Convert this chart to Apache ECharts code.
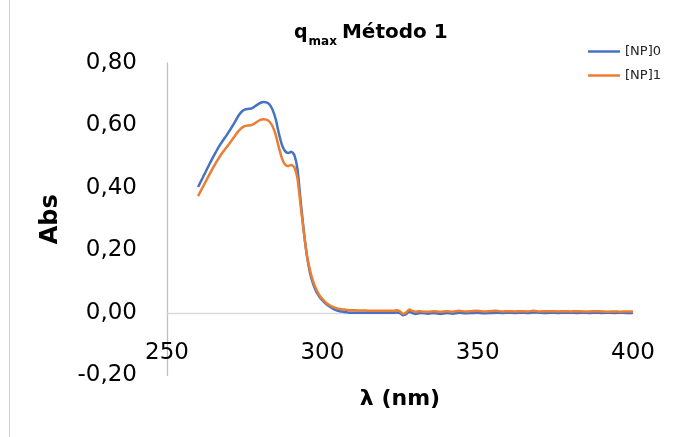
<!DOCTYPE html>
<html>
<head>
<meta charset="utf-8">
<script src="https://cdn.jsdelivr.net/npm/echarts@6/dist/echarts.min.js"></script>
<style>html,body{margin:0;padding:0;background:#fff}#c{width:685px;height:437px}</style>
</head>
<body>
<div id="c"></div>
<script>
// Wavelengths (nm)
const wavelengths = [
  260,261,262,263,264,265,266,267,268,269,270,271,272,273,274,275,276,277,278,279,
  280,281,282,283,284,285,286,287,288,289,290,291,292,293,294,295,296,297,298,299,
  300,301,302,303,304,305,306,307,308,309,310,311,312,313,314,315,316,317,318,319,
  320,321,322,323,324,325,326,327,328,329,330,331,332,
  334,336,338,340,342,344,346,348,350,352,354,356,358,360,362,364,366,368,370,372,
  374,376,378,380,382,384,386,388,390,392,394,396,398,400
];
// [NP]0 absorbance
const np0 = [
  0.403,0.423,0.443,0.463,0.483,0.502,0.520,0.537,0.552,0.566,0.581,0.597,0.614,0.631,0.644,0.651,0.653,0.654,0.659,0.666,
  0.672,0.675,0.674,0.667,0.650,0.620,0.575,0.538,0.518,0.512,0.516,0.505,0.460,0.360,0.265,0.185,0.130,0.094,0.070,0.053,
  0.041,0.031,0.023,0.016,0.011,0.007,0.005,0.003,0.002,0.001,0.001,0.001,0.001,0.001,0.001,0.001,0.001,0.001,0.001,0.001,
  0.001,0.001,0.001,0.001,0.002,0.000,-0.007,-0.004,0.004,0.000,-0.003,-0.001,0.000,
  -0.002,0.000,-0.003,0.000,-0.002,0.001,-0.001,0.000,0.001,-0.001,0.000,0.001,0.000,0.001,0.000,0.001,0.000,0.002,0.001,0.000,
  0.001,0.000,0.001,0.001,0.000,0.001,0.000,0.001,0.000,0.001,0.000,0.001,0.000,0.001
];
// [NP]1 absorbance
const np1 = [
  0.374,0.393,0.412,0.431,0.450,0.468,0.485,0.501,0.515,0.528,0.541,0.555,0.569,0.582,0.592,0.598,0.600,0.601,0.605,0.612,
  0.618,0.620,0.619,0.612,0.597,0.570,0.530,0.495,0.475,0.470,0.474,0.466,0.430,0.345,0.262,0.188,0.138,0.102,0.077,0.058,
  0.045,0.035,0.027,0.021,0.017,0.014,0.012,0.011,0.010,0.009,0.009,0.008,0.008,0.008,0.008,0.007,0.007,0.007,0.007,0.007,
  0.007,0.007,0.007,0.007,0.009,0.005,-0.003,0.002,0.011,0.007,0.004,0.006,0.005,
  0.004,0.006,0.003,0.006,0.004,0.007,0.005,0.006,0.007,0.005,0.006,0.007,0.005,0.006,0.005,0.006,0.005,0.007,0.005,0.006,
  0.006,0.005,0.006,0.005,0.006,0.005,0.005,0.006,0.005,0.004,0.005,0.004,0.005,0.005
];
const seriesNames = ['[NP]0', '[NP]1'];
const yTicks = [-0.2, 0, 0.2, 0.4, 0.6, 0.8];
const xTicks = [250, 300, 350, 400];

const FONT = 'DejaVu Sans';
const pair = (xs, ys) => xs.map((x, i) => [x, ys[i]]);
const yMin = yTicks[0], yMax = yTicks[yTicks.length - 1];

const chart = echarts.init(document.getElementById('c'), null, {renderer: 'canvas'});
chart.setOption({
  animation: false,
  backgroundColor: '#ffffff',
  textStyle: {fontFamily: FONT},
  title: {
    text: '{q|q}{sub|max}{m|Método 1}',
    left: 289, top: 14,
    textStyle: {
      rich: {
        q: {fontFamily: FONT, fontWeight: 'bold', fontSize: 19, color: '#000', verticalAlign: 'bottom', lineHeight: 24},
        sub: {fontFamily: FONT, fontWeight: 'bold', fontSize: 12, color: '#000', verticalAlign: 'bottom', lineHeight: 24, padding: [0, 0, -5, 1]},
        m: {fontFamily: FONT, fontWeight: 'bold', fontSize: 20, color: '#000', verticalAlign: 'bottom', lineHeight: 24, padding: [0, 0, 0, 5]}
      }
    }
  },
  legend: {
    orient: 'vertical',
    left: 583, top: 40,
    icon: 'path://M0,0H32V2.5H0Z',
    itemWidth: 32, itemHeight: 2.5, itemGap: 11,
    textStyle: {fontFamily: FONT, fontSize: 13, color: '#222'},
    data: seriesNames
  },
  grid: {left: 167, right: 52, top: 63, bottom: 61.5, containLabel: false, outerBoundsMode: 'none'},
  xAxis: {
    type: 'value', min: xTicks[0], max: xTicks[xTicks.length - 1], interval: 50,
    axisLine: {show: true, onZero: true, lineStyle: {color: '#d9d9d9', width: 1.3}},
    axisTick: {show: false},
    splitLine: {show: false},
    axisLabel: {inside: true, margin: 11, fontFamily: FONT, fontSize: 23, color: '#000'},
    name: 'λ (nm)', nameLocation: 'middle', nameGap: 13,
    nameTextStyle: {fontFamily: FONT, fontWeight: 'bold', fontSize: 22, color: '#000'}
  },
  yAxis: [{
    type: 'value', min: yMin, max: yMax, interval: 0.2, position: 'left', offset: 22,
    axisLine: {show: false, onZero: false},
    axisTick: {show: false},
    splitLine: {show: false},
    axisLabel: {show: true, margin: 8, align: 'right', fontFamily: FONT, fontSize: 23, color: '#000',
      formatter: v => v.toFixed(2).replace('.', ',')},
    name: 'Abs', nameLocation: 'middle', nameGap: 82, nameRotate: 90,
    nameTextStyle: {fontFamily: FONT, fontWeight: 'bold', fontSize: 24, color: '#000'}
  }, {
    type: 'value', min: yMin, max: yMax, interval: 0.2, position: 'left', offset: 0,
    axisLine: {show: true, onZero: false, lineStyle: {color: '#bfbfbf', width: 1.3}},
    axisTick: {show: false},
    axisLabel: {show: false},
    splitLine: {show: false}
  }],
  graphic: [{
    type: 'line', shape: {x1: 9.5, y1: 0, x2: 9.5, y2: 437},
    style: {stroke: '#cfcfcf', lineWidth: 1}, silent: true
  }],
  series: [
    {name: seriesNames[0], type: 'line', yAxisIndex: 0, data: pair(wavelengths, np0), symbol: 'none', smooth: 0.2,
     lineStyle: {color: '#4472C4', width: 2.5}, itemStyle: {color: '#4472C4'}},
    {name: seriesNames[1], type: 'line', yAxisIndex: 0, data: pair(wavelengths, np1), symbol: 'none', smooth: 0.2,
     lineStyle: {color: '#ED7D31', width: 2.5}, itemStyle: {color: '#ED7D31'}}
  ]
});
</script>
</body>
</html>
